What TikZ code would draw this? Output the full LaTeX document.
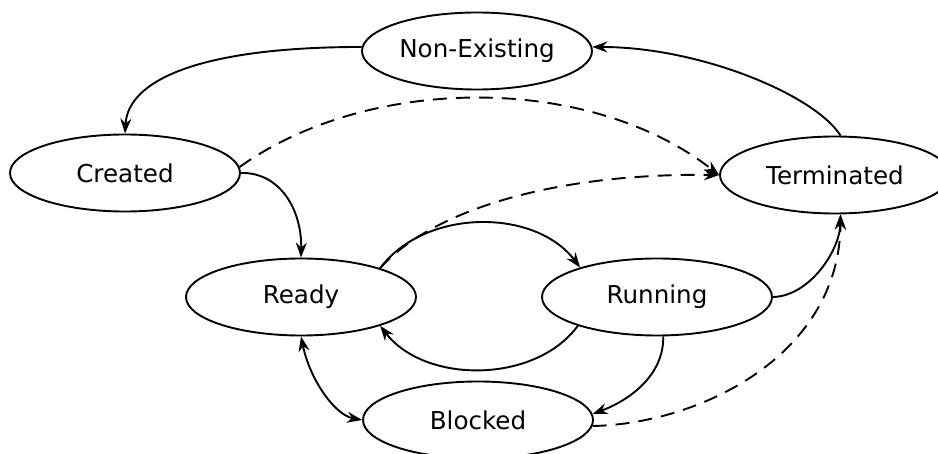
\documentclass[tikz,border=0pt]{standalone}
\usepackage{fontspec}
\setmainfont{DejaVu Sans}
\usetikzlibrary{arrows.meta,shapes.geometric}
\begin{document}
\begin{tikzpicture}[x=1pt,y=-1pt,
  state/.style={ellipse,draw,line width=1.9pt,minimum width=230pt,minimum height=77pt,inner sep=0pt,font=\fontsize{24.6}{28}\selectfont},
  tip/.tip={Stealth[length=15pt,width=11pt,inset=5pt]},
  edge/.style={line width=1.9pt,-tip},
  dedge/.style={edge,dash pattern=on 14pt off 9pt},
  both/.style={line width=1.9pt,tip-tip}]
\useasboundingbox (0,0) rectangle (938,454);
\node[state] (ne) at (477,51) {Non-Existing};
\node[state] (cr) at (125,173) {Created};
\node[state] (te) at (835,175) {Terminated};
\node[state] (rd) at (301,297) {Ready};
\node[state] (ru) at (657,297) {Running};
\node[state] (bl) at (478,420) {Blocked};
% edges
\draw[edge] (ne.178) .. controls (200,47) and (128,80) .. (cr.north);
\draw[edge] (te.82) .. controls (815,95) and (700,47) .. (ne.2);
\draw[dedge] (cr.3) .. controls (370,74) and (590,74) .. (te.west);
\draw[edge] (cr.east) .. controls (280,172) and (302,210) .. (rd.north);
\draw[edge] (rd.20) .. controls (425,208) and (535,208) .. (ru.159);
\draw[dedge] (rd.20) .. controls (430,212) and (550,173) .. (te.west);
\draw[edge] (ru.200) .. controls (535,384) and (425,384) .. (rd.340);
\draw[edge] (ru.east) .. controls (810,296) and (840,250) .. (te.278);
\draw[edge] (ru.279) .. controls (664,375) and (630,400) .. (bl.3);
\draw[dedge] (bl.357) .. controls (700,424) and (840,355) .. (te.278);
\draw[both] (rd.south) .. controls (310,380) and (335,415) .. (bl.west);
\end{tikzpicture}
\end{document}
